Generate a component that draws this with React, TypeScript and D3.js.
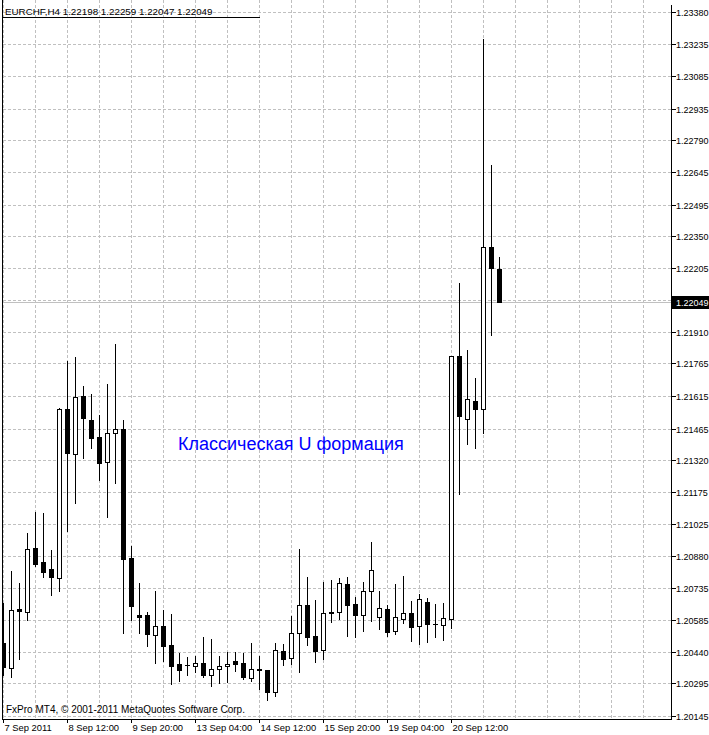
import React from "react";
import * as d3 from "d3";

const symbolTitle = "EURCHF,H4  1.22198 1.22259 1.22047 1.22049";
const copyright = "FxPro MT4, \u00a9 2001-2011 MetaQuotes Software Corp.";
const annotation = "Классическая U формация";

const priceTicks = [
  1.20145, 1.20295, 1.2044, 1.20585, 1.20735, 1.2088, 1.21025, 1.21175,
  1.2132, 1.21465, 1.21615, 1.21765, 1.2191, 1.22055, 1.22205, 1.2235,
  1.22495, 1.22645, 1.2279, 1.22935, 1.23085, 1.23235, 1.2338,
];
const timeLabels = [
  "7 Sep 2011", "8 Sep 12:00", "9 Sep 20:00", "13 Sep 04:00",
  "14 Sep 12:00", "15 Sep 20:00", "19 Sep 04:00", "20 Sep 12:00",
];
const timeLabelIndex = [0, 8, 16, 24, 32, 40, 48, 56];
const currentPrice = 1.22049;

const opens = [
  1.2048, 1.20367, 1.20638, 1.20624, 1.20916, 1.20853, 1.20821, 1.20778,
  1.21556, 1.21348, 1.21616, 1.21505, 1.21427, 1.21311, 1.21444, 1.21464,
  1.20871, 1.20608, 1.20608, 1.20516, 1.20557, 1.2047, 1.20383, 1.20378,
  1.20373, 1.20387, 1.20332, 1.2036, 1.20373, 1.20396, 1.20389, 1.20318,
  1.2036, 1.20356, 1.20257, 1.20442, 1.2041, 1.20525, 1.20654, 1.20511,
  1.20447, 1.20623, 1.20622, 1.20752, 1.2066, 1.20611, 1.20718, 1.20599,
  1.20635, 1.20534, 1.20589, 1.20617, 1.20557, 1.20669, 1.20566, 1.20563,
  1.20589, 1.21798, 1.21508, 1.21592, 1.21557, 1.22299, 1.22198,
];
const highs = [
  1.2067, 1.20816, 1.20759, 1.20989, 1.21086, 1.21081, 1.20911, 1.21566,
  1.21781, 1.21801, 1.21666, 1.21628, 1.21533, 1.21675, 1.21859, 1.2151,
  1.20931, 1.20759, 1.20628, 1.20724, 1.20637, 1.20617, 1.20438, 1.20419,
  1.20427, 1.20511, 1.20503, 1.20425, 1.20444, 1.20444, 1.20438, 1.20485,
  1.20425, 1.20356, 1.20485, 1.2048, 1.20609, 1.20916, 1.20788, 1.20681,
  1.20765, 1.20773, 1.20784, 1.20788, 1.20696, 1.20765, 1.20949, 1.20724,
  1.2066, 1.20756, 1.20793, 1.20678, 1.2071, 1.20693, 1.20664, 1.20667,
  1.21798, 1.22139, 1.21831, 1.21703, 1.23259, 1.22682, 1.22259,
];
const lows = [
  1.20333, 1.20326, 1.20407, 1.20586, 1.20834, 1.20785, 1.20701, 1.20721,
  1.20995, 1.21125, 1.21331, 1.21378, 1.2123, 1.21061, 1.21217, 1.20528,
  1.20586, 1.20528, 1.20467, 1.2039, 1.20399, 1.20292, 1.20307, 1.20335,
  1.20346, 1.20326, 1.20284, 1.20298, 1.203, 1.2035, 1.20314, 1.20307,
  1.2027, 1.20219, 1.20238, 1.20381, 1.20384, 1.20349, 1.20471, 1.20395,
  1.20408, 1.20578, 1.20591, 1.20513, 1.20508, 1.20537, 1.20583, 1.20546,
  1.20513, 1.2052, 1.20574, 1.20491, 1.20477, 1.20486, 1.20509, 1.20494,
  1.20548, 1.21164, 1.21396, 1.21378, 1.21447, 1.21897, 1.22047,
];
const closes = [
  1.20372, 1.20631, 1.20629, 1.20911, 1.20845, 1.20808, 1.20785, 1.21556,
  1.21355, 1.2161, 1.21516, 1.21424, 1.21309, 1.21444, 1.21462, 1.20868,
  1.20652, 1.20601, 1.2052, 1.20557, 1.20468, 1.20376, 1.20358, 1.20378,
  1.20387, 1.20335, 1.2036, 1.20373, 1.20383, 1.20385, 1.20323, 1.2036,
  1.20355, 1.20257, 1.20447, 1.20408, 1.20525, 1.20654, 1.20509, 1.20445,
  1.20617, 1.20617, 1.20755, 1.20656, 1.20611, 1.20718, 1.20815, 1.2064,
  1.20532, 1.20599, 1.20617, 1.20553, 1.20681, 1.20566, 1.20566, 1.20594,
  1.21798, 1.21525, 1.216, 1.21557, 1.22299, 1.22205, 1.22049,
];

const W = 709;
const H = 735;
const LEFT = 2.5;
const RIGHT = 671.5;
const BOTTOM = 719.5;
const FONT = "'Liberation Sans', Arial, sans-serif";
const GRID = "#c0c0c0";

export default function App() {
  const y = d3.scaleLinear().domain([1.20145, 1.2338]).range([716, 12]);
  const x = d3.scaleLinear().domain([0, 62]).range([3.5, 499.5]);
  const cxOf = (i: number) => Math.floor(x(i)) + 0.5;
  const ry = (p: number) => Math.round(y(p));
  const gridIdx = d3.range(0, 81, 4);
  const yCur = ry(currentPrice) + 0.5;

  return (
    <div style={{ position: "absolute", left: 0, top: 0 }}>
      <svg width={W} height={H} style={{ display: "block", background: "#fff" }} fontFamily={FONT}>
        <rect x={0} y={0} width={W} height={H} fill="#fff" />
        <defs>
          <clipPath id="plot">
            <rect x={3} y={0} width={RIGHT - 3} height={BOTTOM} />
          </clipPath>
        </defs>
        {/* grid */}
        <g stroke={GRID} strokeWidth={1} strokeDasharray="3,2" shapeRendering="crispEdges">
          {priceTicks.map((t, i) => (
            <line key={"h" + i} x1={LEFT} x2={RIGHT} y1={ry(t) + 0.5} y2={ry(t) + 0.5} />
          ))}
          {gridIdx.map((k) => (
            <line key={"v" + k} x1={cxOf(k)} x2={cxOf(k)} y1={0} y2={BOTTOM} />
          ))}
        </g>
        {/* current price line */}
        <line x1={LEFT} x2={RIGHT} y1={yCur} y2={yCur} stroke={GRID} strokeWidth={1} shapeRendering="crispEdges" />
        {/* candles */}
        <g clipPath="url(#plot)" shapeRendering="crispEdges">
          {opens.map((o, i) => {
            const c = closes[i];
            const cx = cxOf(i);
            const top = ry(Math.max(o, c));
            const bot = ry(Math.min(o, c));
            const bull = c > o;
            return (
              <g key={i}>
                <line x1={cx} x2={cx} y1={ry(highs[i]) + 0.5} y2={ry(lows[i]) + 0.5} stroke="#000" />
                {bot - top < 1 ? (
                  <line x1={cx - 2.5} x2={cx + 2.5} y1={top + 0.5} y2={top + 0.5} stroke="#000" />
                ) : (
                  <rect x={cx - 2} y={top + 0.5} width={4} height={bot - top}
                    fill={bull ? "#fff" : "#000"} stroke="#000" />
                )}
              </g>
            );
          })}
        </g>
        {/* frame */}
        <g stroke="#000" strokeWidth={1} shapeRendering="crispEdges">
          <line x1={LEFT} x2={LEFT} y1={0} y2={BOTTOM} />
          <line x1={RIGHT} x2={RIGHT} y1={5} y2={BOTTOM} />
          <line x1={LEFT} x2={RIGHT} y1={BOTTOM} y2={BOTTOM} />
          <line x1={LEFT} x2={260} y1={17.5} y2={17.5} />
        </g>
        {/* price axis */}
        <g fontSize={9} fill="#000">
          {priceTicks.map((t, i) => {
            const yy = ry(t) + 0.5;
            const hidden = Math.abs(yy - yCur) < 10;
            return (
              <g key={"pt" + i}>
                <line x1={RIGHT} x2={RIGHT + 4} y1={yy} y2={yy} stroke="#000" shapeRendering="crispEdges" />
                {!hidden && (
                  <text x={676} y={yy + 3.5}>{t.toFixed(5)}</text>
                )}
              </g>
            );
          })}
          <rect x={672} y={yCur - 6.5} width={37} height={13} fill="#000" />
          <text x={676} y={yCur + 3.5} fill="#fff">{currentPrice.toFixed(5)}</text>
        </g>
        {/* time axis */}
        <g fontSize={9.4} fill="#000">
          {timeLabels.map((lab, i) => {
            const xx = cxOf(timeLabelIndex[i]);
            return (
              <g key={"tl" + i}>
                <line x1={xx} x2={xx} y1={BOTTOM} y2={BOTTOM + 3} stroke="#000" shapeRendering="crispEdges" />
                <text x={xx + 1} y={731}>{lab}</text>
              </g>
            );
          })}
        </g>
        <text x={5} y={14.5} fontSize={9.8} fill="#000">{symbolTitle}</text>
        <text x={6} y={713} fontSize={10} fill="#000">{copyright}</text>
        <text x={178} y={450} fontSize={18} fill="#0000ff">{annotation}</text>
      </svg>
    </div>
  );
}
